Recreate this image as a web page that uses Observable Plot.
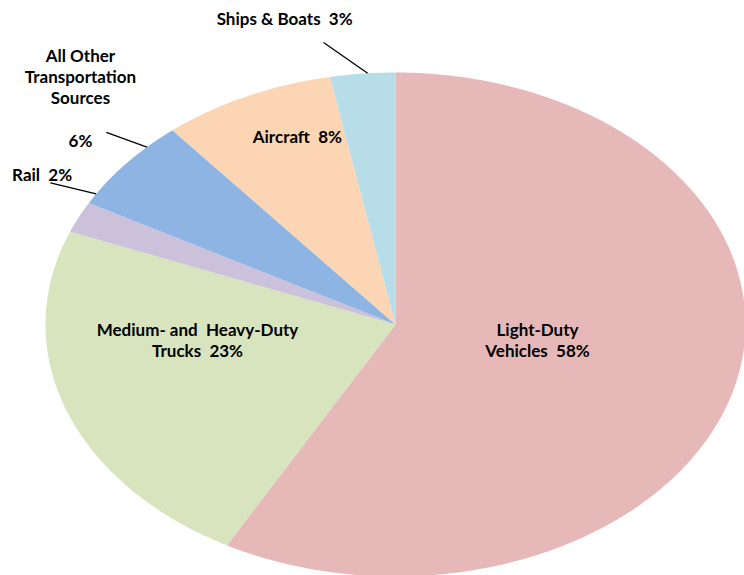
<!DOCTYPE html>
<html>
<head>
<meta charset="utf-8">
<script src="https://cdn.jsdelivr.net/npm/d3@7"></script>
<script src="https://cdn.jsdelivr.net/npm/@observablehq/plot@0.6"></script>
<style>
  html, body { margin: 0; padding: 0; background: #fff; }
  #chart { width: 744px; height: 575px; overflow: hidden; }
</style>
</head>
<body>
<div id="chart"></div>
<script>
// ---- data ----
const categories = ["Light-Duty Vehicles", "Medium- and Heavy-Duty Trucks", "Rail", "All Other Transportation Sources", "Aircraft", "Ships & Boats"];
const shares = [58, 23, 2, 6, 8, 3];
const labelNames = ["Light-Duty\nVehicles", "Medium- and  Heavy-Duty\nTrucks", "Rail", "All Other\nTransportation\nSources\n\n", "Aircraft", "Ships & Boats"];
const colors = ["#E6B9B8", "#D7E4BD", "#CCC1DA", "#8EB4E3", "#FCD5B5", "#B7DEE8"];

// ---- label layout (polar: fraction of turn clockwise from top, radius relative to pie) ----
const labelAngle = [0.273, 0.7333, 0.835, 0.875, 0.943, 0.9594];
const labelRadius = [0.41, 0.5688, 1.173, 1.273, 0.80, 1.255];
const leaderCats = ["Rail", "All Other Transportation Sources", "Ships & Boats"];
const leaderFromAngle = [0.8325, 0.8686, 0.9711];
const leaderFromRadius = [1.135, 1.124, 1.138];
const leaderToAngle = [0.8367, 0.8743, 0.9873];

const polar = (a, r) => ({x: r * Math.sin(2 * Math.PI * a), y: r * Math.cos(2 * Math.PI * a)});

const total = d3.sum(shares);
let cum = 0;
const slices = categories.map((c, i) => {
  const a0 = cum / total; cum += shares[i];
  return {cat: c, a0, a1: cum / total};
});
const pts = [];
for (const s of slices) {
  pts.push({cat: s.cat, x: 0, y: 0});
  const n = Math.max(2, Math.ceil((s.a1 - s.a0) * 720));
  for (let k = 0; k <= n; k++) {
    const p = polar(s.a0 + (s.a1 - s.a0) * k / n, 1);
    pts.push({cat: s.cat, x: p.x, y: p.y});
  }
  pts.push({cat: s.cat, x: 0, y: 0});
}
const labels = categories.map((c, i) => {
  const p = polar(labelAngle[i], labelRadius[i]);
  const name = labelNames[i];
  const text = name + (name.endsWith("\n") ? "" : "  ") + shares[i] + "%";
  return {cat: c, x: p.x, y: p.y, text};
});
const leaders = leaderCats.map((c, i) => {
  const p1 = polar(leaderFromAngle[i], leaderFromRadius[i]);
  const p2 = polar(leaderToAngle[i], 1);
  return {cat: c, x1: p1.x, y1: p1.y, x2: p2.x, y2: p2.y};
});

const chart = Plot.plot({
  width: 744,
  height: 575,
  margin: 0,
  style: {background: "#fff", fontFamily: "Lato, 'Open Sans', sans-serif"},
  x: {domain: [-1, 1], range: [45, 745], axis: null},
  y: {domain: [-1, 1], range: [576, 72], axis: null},
  color: {domain: categories, range: colors},
  marks: [
    Plot.line(pts, {x: "x", y: "y", z: "cat", fill: "cat", stroke: "none", curve: "linear"}),
    Plot.link(leaders, {x1: "x1", y1: "y1", x2: "x2", y2: "y2", stroke: "#000", strokeWidth: 1.3}),
    Plot.text(labels, {x: "x", y: "y", text: "text", fill: "#000", fontSize: 17, fontWeight: "bold", lineHeight: 1.25})
  ]
});
document.getElementById("chart").appendChild(chart);
</script>
</body>
</html>
